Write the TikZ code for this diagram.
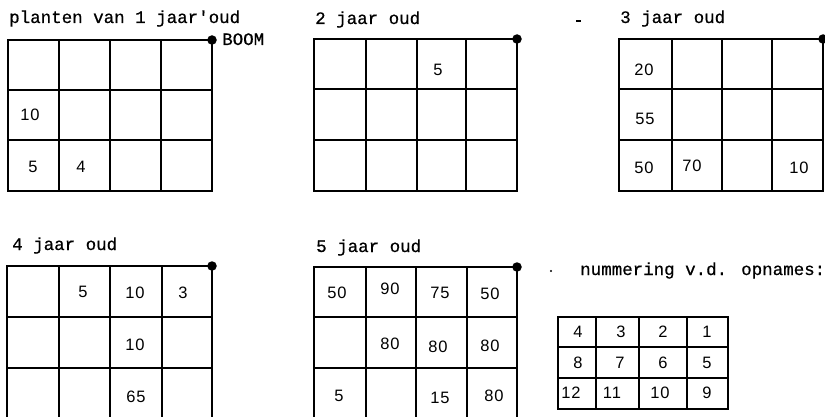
\documentclass[tikz,border=0pt]{standalone}
\usepackage{fontspec}
\setmainfont{Liberation Serif}
\newfontfamily\labfont[FakeBold=0.6]{Liberation Mono}
\newfontfamily\numfont[LetterSpace=6]{Liberation Sans}
\begin{document}
\begin{tikzpicture}[x=1pt,y=-1pt,
  gridline/.style={line width=1.3pt, line cap=rect},
  lab/.style={font=\labfont\fontsize{17.5}{20}\selectfont, anchor=base west, inner sep=0pt},
  num/.style={font=\numfont\fontsize{16.5}{19}\selectfont, inner sep=0pt},
  treedot/.style={fill=black, circle, inner sep=0pt, minimum size=9.5pt}]
\useasboundingbox (0,0) rectangle (825,417);

% ---------- labels ----------
\node[lab] (l1) at (9,23) {planten van 1 jaar'oud};
\node[lab] (boom) at (222,45) {BOOM};
\node[lab] (l2) at (315,24) {2 jaar oud};
\node[lab] (l3) at (620,23) {3 jaar oud};
\node[lab] (l4) at (12,250) {4 jaar oud};
\node[lab] (l5) at (316,252) {5 jaar oud};
\node[lab] (l6) at (580,275) {nummering v.d. opnames:};
\draw[line width=1.3pt] (576,21) -- (581,21);
\fill (551,271) circle (1.2);

% ---------- grid A (1 jaar) ----------
\draw[gridline] (8,40) rectangle (212,191);
\foreach \x in {59,110,161} \draw[gridline] (\x,40) -- (\x,191);
\foreach \y in {90,140} \draw[gridline] (8,\y) -- (212,\y);
\node[treedot] (dA) at (212,40) {};
\node[num] (a1) at (30,115) {10};
\node[num] (a2) at (33,167) {5};
\node[num] (a3) at (81,167) {4};

% ---------- grid B (2 jaar) ----------
\draw[gridline] (314,39) rectangle (517,191);
\foreach \x in {366,417,466} \draw[gridline] (\x,39) -- (\x,191);
\foreach \y in {89,140} \draw[gridline] (314,\y) -- (517,\y);
\node[treedot] (dB) at (517,39) {};
\node[num] (b1) at (438,70) {5};

% ---------- grid C (3 jaar) ----------
\draw[gridline] (619,39) rectangle (823,191);
\foreach \x in {672,722,772} \draw[gridline] (\x,39) -- (\x,191);
\foreach \y in {89,140} \draw[gridline] (619,\y) -- (823,\y);
\node[treedot] (dC) at (823,39) {};
\node[num] (c1) at (644,70) {20};
\node[num] (c2) at (645,119) {55};
\node[num] (c3) at (644,168) {50};
\node[num] (c4) at (692,166) {70};
\node[num] (c5) at (799,168) {10};

% ---------- grid D (4 jaar) ----------
\draw[gridline] (7,418) -- (7,266) -- (212,266) -- (212,418);
\foreach \x in {59,110,162} \draw[gridline] (\x,266) -- (\x,418);
\foreach \y in {317,368} \draw[gridline] (7,\y) -- (212,\y);
\node[treedot] (dD) at (212,266) {};
\node[num] (d1) at (83,292) {5};
\node[num] (d2) at (135,293) {10};
\node[num] (d3) at (183,293) {3};
\node[num] (d4) at (135,345) {10};
\node[num] (d5) at (136,397) {65};

% ---------- grid E (5 jaar) ----------
\draw[gridline] (314,418) -- (314,267) -- (517,267) -- (517,418);
\foreach \x in {366,416,467} \draw[gridline] (\x,267) -- (\x,418);
\foreach \y in {317,368} \draw[gridline] (314,\y) -- (517,\y);
\node[treedot] (dE) at (517,267) {};
\node[num] (e1) at (337,293) {50};
\node[num] (e2) at (390,289) {90};
\node[num] (e3) at (440,293) {75};
\node[num] (e4) at (490,294) {50};
\node[num] (e5) at (390,344) {80};
\node[num] (e6) at (438,347) {80};
\node[num] (e7) at (490,346) {80};
\node[num] (e8) at (339,396) {5};
\node[num] (e9) at (440,398) {15};
\node[num] (e10) at (494,396) {80};

% ---------- numbering table ----------
\draw[gridline] (558,317) rectangle (728,409);
\foreach \x in {596,639,687} \draw[gridline] (\x,317) -- (\x,409);
\foreach \y in {347,378} \draw[gridline] (558,\y) -- (728,\y);
\node[num] (f4) at (578,332) {4};
\node[num] (f3) at (621,332) {3};
\node[num] (f2) at (663,332) {2};
\node[num] (f1) at (707,332) {1};
\node[num] (f8) at (578,363) {8};
\node[num] (f7) at (620,363) {7};
\node[num] (f6) at (663,363) {6};
\node[num] (f5) at (707,363) {5};
\node[num] (f12) at (571,393) {12};
\node[num] (f11) at (612,393) {11};
\node[num] (f10) at (660,393) {10};
\node[num] (f9) at (707,393) {9};
\end{tikzpicture}
\end{document}
